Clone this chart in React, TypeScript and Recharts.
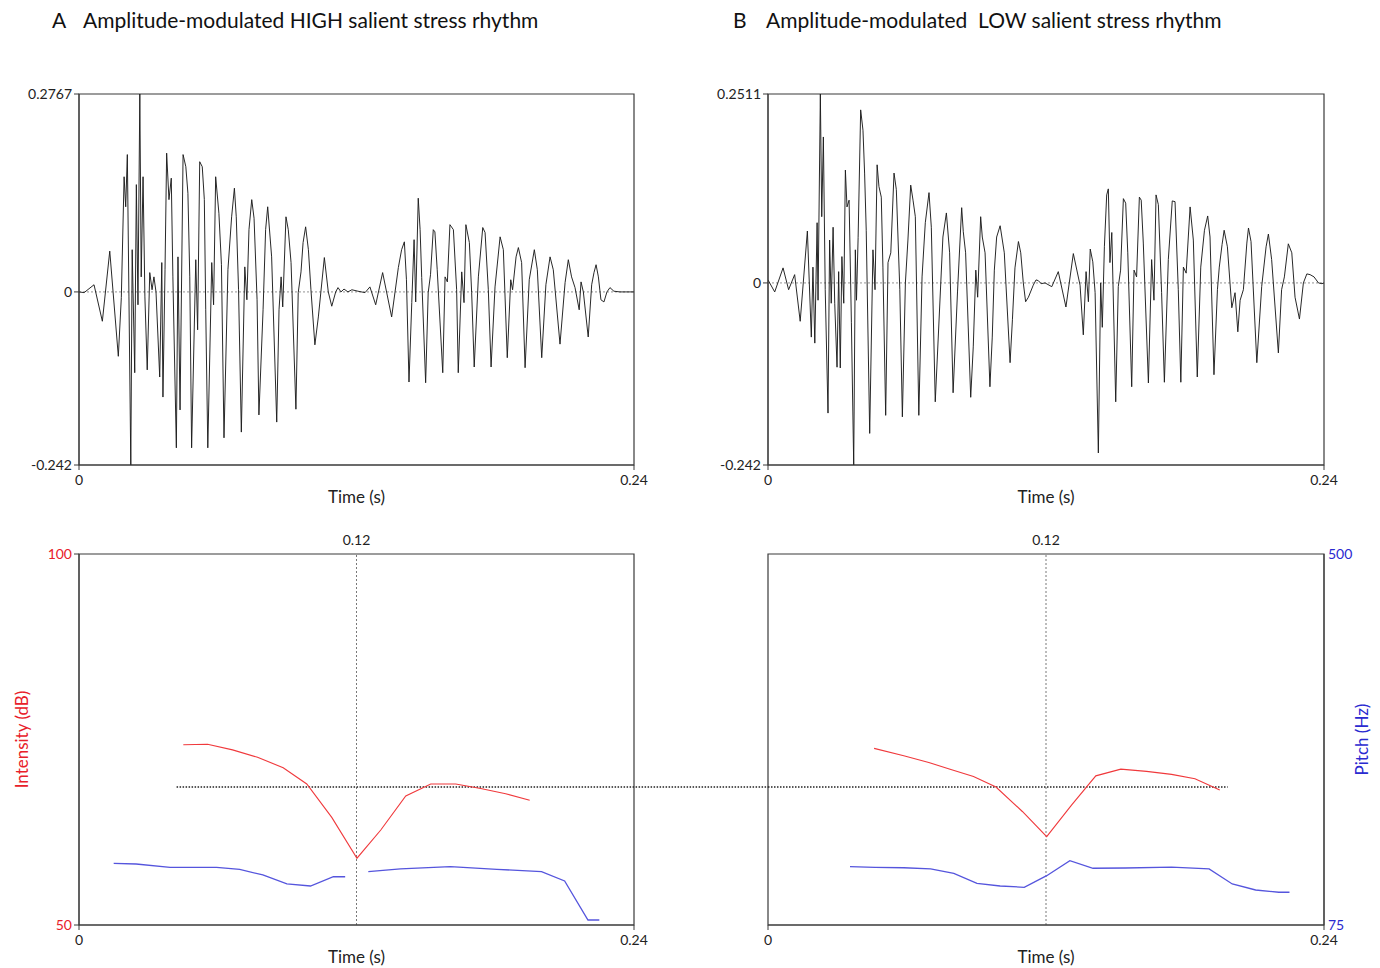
import React from 'react';
import { LineChart, Line, XAxis, YAxis, ReferenceLine, ReferenceArea } from 'recharts';

// ---- Waveform A (time in ms, amplitude) ----
const waveformA: [number, number][] = [
  [0,0],[2.2,-0.001],[6.5,0.010],[10.1,-0.041],[13.3,0.057],[17.0,-0.090],[18.3,-0.008],[19.5,0.161],[20.2,0.119],[20.9,0.192],[21.6,-0.007],[22.4,-0.242],[23.0,0.059],[24.1,-0.113],[24.8,0.150],[25.5,-0.018],[26.3,0.2767],[26.9,0.021],[27.7,0.161],[28.5,-0.007],[29.5,-0.109],[30.6,0.027],[31.6,0.003],[32.4,0.021],[33.3,0],[34.9,-0.119],[35.8,0.041],[36.3,-0.147],[37.2,0.031],[37.9,0.194],[38.9,0.129],[39.9,0.159],[40.6,0.021],[42.1,-0.218],[42.8,0.049],[43.7,-0.165],[45.0,0.192],[46.2,0.175],[47.1,0.138],[47.9,0.021],[48.7,-0.218],[50.5,0.045],[51.3,-0.053],[52.2,0.182],[53.3,0.175],[54.2,0.129],[54.8,-0.025],[55.7,-0.218],[57.4,0.041],[58.2,-0.018],[59.1,0.161],[60.5,0.110],[61.6,0.038],[62.7,-0.204],[64.4,0.031],[66.0,0.105],[67.2,0.145],[68.0,0.105],[69.0,0.003],[70.2,-0.196],[71.7,0.035],[72.6,-0.011],[73.5,0.087],[74.7,0.129],[75.7,0.103],[77.0,-0.011],[77.8,-0.172],[79.6,-0.025],[80.7,0.087],[81.6,0.119],[83.3,0.049],[85.5,-0.182],[86.5,-0.025],[87.4,0.021],[88.1,-0.021],[89.5,0.105],[90.5,0.087],[91.7,0.041],[93.8,-0.164],[94.8,-0.001],[96.0,0.028],[96.9,0.069],[98.0,0.091],[99.2,0.059],[100.3,0.003],[102.0,-0.074],[103.5,-0.035],[106.1,0.048],[107.8,0],[109.3,-0.020],[111.0,0],[112.0,0.006],[113.3,0],[114.6,0.004],[116.3,0],[118.0,0.003],[120.6,0.001],[123.7,-0.001],[125.8,0.007],[128.3,-0.018],[131.3,0.027],[135.2,-0.035],[138.1,0.034],[139.5,0.059],[140.7,0.070],[141.6,0.017],[142.7,-0.126],[143.9,-0.015],[144.9,0.073],[145.6,-0.014],[146.7,0.131],[147.5,0.087],[148.2,0.020],[149.9,-0.127],[151.0,-0.001],[152.0,0.024],[153.2,0.087],[153.9,0.084],[154.9,0.031],[157.3,-0.113],[158.3,0.021],[159.3,0.014],[160.4,0.094],[161.9,0.087],[163.3,0.003],[164.0,-0.113],[165.5,0.028],[166.5,-0.015],[167.3,0.094],[168.8,0.069],[169.8,-0.001],[170.9,-0.105],[172.7,0.021],[174.6,0.090],[175.6,0.083],[177.0,0.003],[178.2,-0.105],[179.9,0.007],[182.1,0.077],[183.5,0.059],[185.2,-0.092],[186.7,0.017],[187.5,0.003],[189.0,0.049],[190.0,0.062],[191.4,0.041],[192.9,-0.106],[194.7,0.017],[196.9,0.059],[198.2,0.031],[200.1,-0.092],[201.9,0.010],[203.7,0.049],[205.1,0.031],[208.0,-0.073],[210.2,0.013],[211.6,0.045],[213.0,0.021],[214.5,0.006],[216.3,-0.025],[217.1,0.014],[218.1,0],[220.2,-0.063],[221.7,0.010],[222.7,0.027],[223.6,0.038],[224.6,0.021],[225.7,-0.011],[227.0,-0.014],[228.3,0],[229.6,0.006],[231.3,0.001],[233.9,0],[240,0],
];

// ---- Waveform B (time in ms, amplitude) ----
const waveformB: [number, number][] = [
  [0,0.004],[2.9,-0.012],[6.5,0.020],[8.9,-0.009],[11.5,0.011],[13.9,-0.051],[17.0,0.069],[18.7,-0.072],[19.4,0.021],[20.2,-0.080],[21.2,0.080],[21.6,-0.023],[22.6,0.2511],[23.2,0.088],[23.9,0.194],[24.7,-0.009],[25.9,-0.173],[26.6,0.057],[27.3,-0.027],[28.1,0.074],[28.8,-0.027],[29.8,-0.112],[30.5,0.015],[31.2,-0.113],[31.9,0.035],[32.7,-0.027],[33.4,0.150],[34.1,0.101],[35.0,0.110],[36.0,-0.053],[37.0,-0.242],[37.7,0.044],[38.2,-0.023],[38.9,0.060],[40.0,0.230],[41.0,0.203],[41.7,0.146],[42.4,0.070],[43.9,-0.200],[45.3,0.044],[46.2,-0.009],[47.1,0.157],[47.9,0.128],[48.9,0.114],[49.6,0.021],[50.8,-0.176],[51.8,0.027],[53.0,0.040],[54.4,0.146],[55.4,0.124],[56.9,-0.009],[58.0,-0.178],[59.3,0],[60.4,0.057],[61.6,0.130],[62.6,0.110],[63.6,0.088],[65.1,-0.176],[66.5,0.008],[67.9,0.080],[69.5,0.120],[70.5,0.074],[72.2,-0.158],[74.1,-0.032],[75.5,0.061],[77.0,0.093],[78.4,0.040],[79.9,-0.146],[81.8,-0.012],[83.6,0.100],[84.3,0.068],[85.3,0.040],[87.5,-0.152],[88.6,-0.085],[89.7,0.017],[90.5,-0.019],[91.8,0.088],[92.5,0.061],[93.7,0.040],[95.8,-0.138],[96.8,-0.072],[97.7,0.017],[98.7,0.061],[100.2,0.076],[102.0,0.040],[104.5,-0.106],[105.5,-0.049],[106.6,0.020],[108.1,0.055],[109.1,0.040],[110.2,0],[111.2,-0.025],[112.4,-0.019],[114.5,-0.003],[115.7,0.004],[116.7,0.003],[117.9,-0.001],[119.6,0],[122.5,-0.005],[125.3,0.015],[128.6,-0.032],[131.8,0.039],[134.7,-0.003],[136.1,-0.069],[137.3,0.015],[138.3,-0.025],[139.1,0.045],[140.2,0.028],[141.2,-0.013],[142.6,-0.226],[143.6,0],[144.3,-0.059],[145.2,0.048],[146.2,0.117],[146.9,0.125],[147.6,0.027],[148.4,0.067],[150.1,-0.158],[151.2,-0.005],[152.2,0.017],[153.4,0.112],[154.4,0.106],[155.3,0.040],[157.0,-0.138],[158.0,0.017],[159.1,0.008],[160.3,0.114],[161.1,0.110],[162.0,0.053],[164.2,-0.133],[165.6,0.031],[166.6,-0.023],[167.5,0.117],[168.5,0.104],[169.9,-0.013],[171.1,-0.132],[172.8,0.031],[174.5,0.109],[175.7,0.108],[177.1,-0.009],[178.2,-0.132],[179.3,0.021],[180.5,0.013],[182.2,0.101],[183.6,0.057],[185.3,-0.125],[186.8,0.021],[188.4,0.070],[189.8,0.089],[190.8,0.061],[192.5,-0.122],[194.0,-0.009],[194.8,0.021],[196.0,0.051],[196.9,0.070],[198.3,0.048],[200.2,-0.033],[201.6,-0.013],[202.8,-0.065],[203.8,-0.023],[205.2,-0.009],[206.7,0.053],[207.4,0.073],[208.5,0.055],[211.0,-0.106],[213.1,-0.005],[215.0,0.048],[216.0,0.065],[217.4,0.031],[220.3,-0.093],[221.7,-0.009],[222.9,0.008],[224.6,0.052],[226.1,0.040],[227.5,-0.019],[229.4,-0.048],[231.1,0],[232.6,0.012],[234.0,0.011],[235.7,0.008],[237.6,0],[239.1,-0.001],[240,0],
];

// ---- Intensity (dB) and pitch (Hz) contours, time in ms ----
const intensityA: [number, number][] = [
  [45.1,74.3],[55.6,74.35],[66.4,73.6],[77.2,72.6],[88.3,71.2],[98.5,69.0],[109.3,64.5],[120.2,59.0],[130.5,62.8],[141.3,67.4],[152.1,69.0],[162.9,69.0],[173.7,68.4],[184.5,67.7],[194.9,66.8],
];
const pitchA: [number, number | null][] = [
  [15.0,145.7],[24.7,144.9],[39.4,141.1],[59.5,141.1],[69.5,138.8],[79.5,132.3],[89.9,122.0],[100.1,119.7],[110.0,130.3],[115.1,130.3],[120,null],[125.1,136.1],[139.0,139.2],[160.6,141.8],[180.7,138.8],[200.0,136.1],[210.0,125.4],[220.1,80.7],[225.0,80.7],
];
const intensityB: [number, number][] = [
  [45.8,73.8],[58.6,72.8],[69.4,71.9],[78.6,71.0],[88.7,70.0],[98.4,68.6],[109.8,65.3],[120.3,61.9],[131.1,66.2],[141.5,70.1],[152.3,71.0],[163.4,70.7],[174.2,70.3],[184.3,69.7],[195.0,68.2],
];
const pitchB: [number, number][] = [
  [35.4,141.8],[46.2,141.1],[58.6,140.6],[70.2,139.2],[80.2,134.2],[90.2,122.8],[100.2,119.7],[110.6,118.2],[120.3,131.5],[130.3,148.7],[140.3,140.0],[154.2,140.3],[174.2,141.4],[190.4,139.2],[200.4,122.0],[210.5,115.1],[220.5,112.5],[225.1,112.5],
];

// ---- Axis settings ----
const timeDomain: [number, number] = [0, 240];
const timeTicks = [0, 240];
const markerTime = 120;
const ampDomainA: [number, number] = [-0.242, 0.2767];
const ampDomainB: [number, number] = [-0.242, 0.2511];
const intensityDomain: [number, number] = [50, 100];
const pitchDomain: [number, number] = [75, 500];
const refLevel = 68.6;
const refStartA = 42.2;
const refEndB = 198.4;

const titleA = 'Amplitude-modulated HIGH salient stress rhythm';
const titleB = 'Amplitude-modulated  LOW salient stress rhythm';

const FONT = 'Lato, "Open Sans", sans-serif';
const RED = '#e8202a';
const BLUE = '#2a2ad0';
const LINE_RED = '#f0393c';
const LINE_BLUE = '#5555dd';
const FRAME = '#3a3a3a';

const toRows = (pairs: [number, number | null][]) => pairs.map(([t, v]) => ({ t, v }));
const fmtTime = (v: number) => (v === 0 ? '0' : String(v / 1000));

function WavePanel({ pairs, domain, left, width, right }: { pairs: [number, number][]; domain: [number, number]; left: number; width: number; right: number }) {
  const rows = toRows(pairs);
  return (
    <div style={{ position: 'absolute', left, top: 60 }}>
      <LineChart width={width} height={470} data={rows} margin={{ top: 34, right, bottom: 25, left: 0 }}>
        <XAxis
          dataKey="t" type="number" domain={timeDomain} ticks={timeTicks} interval={0} allowDataOverflow
          tickFormatter={fmtTime} height={40} tickSize={5} tickMargin={5} stroke={FRAME}
          tick={{ fill: '#222', fontSize: 14 }}
          label={{ value: 'Time (s)', position: 'insideBottom', offset: 2, fill: '#222', fontSize: 17 }}
        />
        <YAxis
          type="number" domain={domain} ticks={[domain[0], 0, domain[1]]} interval={0} allowDataOverflow
          width={79} tickSize={5} tickMargin={2} stroke={FRAME} tick={{ fill: '#222', fontSize: 14 }}
          tickFormatter={(v: number) => String(v)}
        />
        <ReferenceArea x1={timeDomain[0]} x2={timeDomain[1]} y1={domain[0]} y2={domain[1]} fill="none" fillOpacity={0} stroke={FRAME} strokeWidth={1.2} />
        <ReferenceLine y={0} stroke="#777" strokeDasharray="2 2" strokeWidth={0.8} />
        <Line dataKey="v" type="linear" stroke="#1c1c1c" strokeWidth={0.95} dot={false} activeDot={false} isAnimationActive={false} />
      </LineChart>
    </div>
  );
}

function ContourPanel({ side, intensity, pitch }: { side: 'left' | 'right'; intensity: [number, number][]; pitch: [number, number | null][] }) {
  const isLeft = side === 'left';
  const segment = isLeft
    ? [{ x: refStartA, y: refLevel }, { x: 300, y: refLevel }]
    : [{ x: 0, y: refLevel }, { x: refEndB, y: refLevel }];
  return (
    <div style={{ position: 'absolute', left: isLeft ? 0 : 689, top: 520 }}>
      <LineChart
        width={isLeft ? 768 : 691} height={448}
        margin={isLeft ? { top: 34, right: 134, bottom: 3, left: 0 } : { top: 34, right: 0, bottom: 3, left: 79 }}
      >
        <XAxis
          dataKey="t" type="number" domain={timeDomain} ticks={timeTicks} interval={0} allowDataOverflow
          tickFormatter={fmtTime} height={40} tickSize={5} tickMargin={5} stroke={FRAME}
          tick={{ fill: '#222', fontSize: 14 }}
          label={{ value: 'Time (s)', position: 'insideBottom', offset: 2, fill: '#222', fontSize: 17 }}
        />
        <YAxis
          yAxisId="int" type="number" domain={intensityDomain} ticks={intensityDomain} interval={0} allowDataOverflow
          hide={!isLeft} width={79} tickSize={5} tickMargin={2} stroke={FRAME} tick={{ fill: RED, fontSize: 14 }}
          label={{ value: 'Intensity (dB)', angle: -90, position: 'insideLeft', offset: 22, fill: RED, fontSize: 17, style: { textAnchor: 'middle' } }}
        />
        <YAxis
          yAxisId="pitch" orientation="right" type="number" domain={pitchDomain} ticks={pitchDomain} interval={0} allowDataOverflow
          hide={isLeft} width={56} tickSize={1} tickLine={false} tickMargin={3} stroke={FRAME} tick={{ fill: BLUE, fontSize: 14 }}
          label={{ value: 'Pitch (Hz)', angle: -90, position: 'insideRight', offset: 18, fill: BLUE, fontSize: 17, style: { textAnchor: 'middle' } }}
        />
        <ReferenceArea yAxisId="int" x1={timeDomain[0]} x2={timeDomain[1]} y1={intensityDomain[0]} y2={intensityDomain[1]} fill="none" fillOpacity={0} stroke={FRAME} strokeWidth={1.2} />
        <ReferenceLine
          yAxisId="int" x={markerTime} stroke="#555" strokeDasharray="2 2" strokeWidth={0.8}
          label={{ value: fmtTime(markerTime), position: 'top', offset: 9, fill: '#222', fontSize: 14 }}
        />
        <ReferenceLine yAxisId="int" segment={segment} ifOverflow="visible" stroke="#222" strokeDasharray="1.5 1.5" strokeWidth={1.4} />
        <Line yAxisId="int" data={toRows(intensity)} dataKey="v" type="linear" stroke={LINE_RED} strokeWidth={1.1} dot={false} activeDot={false} isAnimationActive={false} />
        <Line yAxisId="pitch" data={toRows(pitch)} dataKey="v" type="linear" stroke={LINE_BLUE} strokeWidth={1.3} dot={false} activeDot={false} connectNulls={false} isAnimationActive={false} />
      </LineChart>
    </div>
  );
}

export default function App() {
  const titleStyle: React.CSSProperties = { position: 'absolute', top: 6, fontSize: 21, color: '#111', whiteSpace: 'pre', lineHeight: '27px' };
  return (
    <div style={{ position: 'absolute', left: 0, top: 0, width: 1380, height: 968, fontFamily: FONT, background: '#fff', overflow: 'hidden' }}>
      <div style={{ ...titleStyle, left: 52 }}>A</div>
      <div style={{ ...titleStyle, left: 83 }}>{titleA}</div>
      <div style={{ ...titleStyle, left: 733 }}>B</div>
      <div style={{ ...titleStyle, left: 766 }}>{titleB}</div>
      <WavePanel pairs={waveformA} domain={ampDomainA} left={0} width={700} right={66} />
      <WavePanel pairs={waveformB} domain={ampDomainB} left={689} width={691} right={56} />
      <ContourPanel side="left" intensity={intensityA} pitch={pitchA} />
      <ContourPanel side="right" intensity={intensityB} pitch={pitchB} />
    </div>
  );
}
